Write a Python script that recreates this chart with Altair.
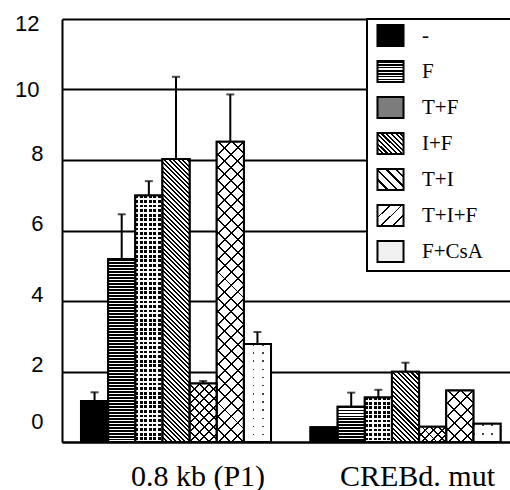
import math
import altair as alt
import pandas as pd

groups = ["0.8 kb (P1)", "CREBd. mut"]
series = ["-", "F", "T+F", "I+F", "T+I", "T+I+F", "F+CsA"]
values_p1 = [1.16, 5.19, 6.99, 8.03, 1.66, 8.52, 2.78]
errors_p1 = [0.25, 1.27, 0.41, 2.33, 0.07, 1.34, 0.34]
values_mut = [0.42, 1.00, 1.26, 1.99, 0.43, 1.46, 0.52]
errors_mut = [0.0, 0.40, 0.22, 0.26, 0.0, 0.0, 0.0]
y_ticks = [0, 2, 4, 6, 8, 10, 12]

PLOT_W, PLOT_H = 448, 423
PAD = {"left": 62, "top": 19, "right": 0, "bottom": 48}
Y_MAX = 12
PAD_INNER, PAD_OUTER, BAND_ALIGN = 0.172, 0.062, 0.667

px_per_unit = PLOT_H / Y_MAX
step = PLOT_W / (len(groups) - PAD_INNER + 2 * PAD_OUTER)
bar_w = step * (1 - PAD_INNER) / len(series)

records = []
for g, vals, errs in ((groups[0], values_p1, errors_p1), (groups[1], values_mut, errors_mut)):
    for s, v, e in zip(series, vals, errs):
        records.append(dict(group=g, series=s, value=v, err=e, upper=v + e))
df = pd.DataFrame(records)

CLEAR = "rgba(255,255,255,0)"
NBSP, ZWSP = "\u00a0", "\u200b"


def band_stops(k, frac, ink, paper):
    out = []
    for i in range(k):
        a, b, c = i / k, (i + frac) / k, (i + 1) / k
        out += [(a, ink), (b, ink), (b, paper), (c, paper)]
    return out


def geometry(kind, w, h, period):
    if kind == "rows":
        return max(1, round(h / period)), (0, 0, 0, 1)
    if kind == "cols":
        return max(1, round(w / period)), (0, 0, 1, 0)
    s = (w + h) / (w * w + h * h)
    k = max(1, round((w + h) / (math.sqrt(2) * period)))
    if kind == "back":
        return k, (0, 1, s * w, 1 - s * h)
    return k, (0, 0, s * w, s * h)


def gradient(kind, w, h, period, frac, ink, paper):
    k, (x1, y1, x2, y2) = geometry(kind, w, h, period)
    stops = [alt.GradientStop(offset=round(o, 5), color=c) for o, c in band_stops(k, frac, ink, paper)]
    return alt.LinearGradient(gradient="linear", stops=stops, x1=x1, y1=y1, x2=x2, y2=y2)


def gradient_expr(kind, w, h, period, frac, ink, paper):
    k, (x1, y1, x2, y2) = geometry(kind, w, h, period)
    stops = ",".join("{offset:%.5f,color:'%s'}" % (o, c) for o, c in band_stops(k, frac, ink, paper))
    return alt.ExprRef(expr="{gradient:'linear',x1:%.5f,y1:%.5f,x2:%.5f,y2:%.5f,stops:[%s]}"
                       % (x1, y1, x2, y2, stops))


patterns = {
    "-": [("solid", "black")],
    "F": [("rows", 3.0, 0.5, "black", "white")],
    "T+F": [("solid", "black"), ("rows", 4.6, 0.6, CLEAR, "white"), ("cols", 4.5, 0.6, CLEAR, "white")],
    "I+F": [("back", 3.2, 0.45, "black", "white")],
    "T+I": [("back", 6.4, 0.22, "black", "white"), ("fwd", 6.4, 0.22, "black", CLEAR)],
    "T+I+F": [("back", 9.4, 0.15, "black", "white"), ("fwd", 9.4, 0.15, "black", CLEAR)],
    "F+CsA": [("solid", "#444444"), ("rows", 8.0, 0.2, CLEAR, "white"), ("cols", 9.0, 0.17, CLEAR, "white")],
}

LEG_W, LEG_H = 26, 21
legend_fills = [
    "black",
    gradient_expr("rows", LEG_W, LEG_H, 3.0, 0.5, "black", "white"),
    "#7c7c7c",
    gradient_expr("back", LEG_W, LEG_H, 3.2, 0.45, "black", "white"),
    gradient_expr("back", LEG_W, LEG_H, 6.4, 0.25, "black", "white"),
    gradient_expr("fwd", LEG_W, LEG_H, 9.4, 0.15, "black", "white"),
    "#f0f0f0",
]
SYMBOL_PATH = "M-1.24,-1H1.24V1H-1.24Z"

y_axis = alt.Axis(
    title=None, values=y_ticks, grid=True, gridColor="black", gridWidth=2, gridOpacity=1,
    domain=True, domainColor="black", domainWidth=2, ticks=False,
    labelFont="Liberation Sans", labelFontSize=22, labelColor="black", labelBaseline="middle",
    labelPadding={"condition": {"test": "datum.value >= 10", "value": 23}, "value": 19},
    labelOffset={"condition": [{"test": "datum.value == 0", "value": -21},
                               {"test": "datum.value == 12", "value": 4},
                               {"test": "datum.value == 10", "value": 0}], "value": -7},
)
x_axis = alt.Axis(
    title=None, labelAngle=0, domain=True, domainColor="black", domainWidth=2, ticks=False, grid=False,
    labelFont="Liberation Serif", labelFontSize=30, labelColor="black", labelBaseline="alphabetic",
    labelPadding=43,
    labelOffset={"condition": {"test": "datum.value == '0.8 kb (P1)'", "value": 22}, "value": 12},
)

y_scale = alt.Scale(domain=[0, Y_MAX], nice=False)
base = alt.Chart(df).encode(
    x=alt.X("group:N", scale=alt.Scale(domain=groups, paddingInner=PAD_INNER,
                                       paddingOuter=PAD_OUTER, align=BAND_ALIGN), axis=x_axis),
    xOffset=alt.XOffset("series:N", scale=alt.Scale(domain=series, paddingInner=0, paddingOuter=0)),
    y=alt.Y("value:Q", scale=y_scale, axis=y_axis),
)

legend_layer = base.mark_bar(stroke="black", strokeWidth=2).encode(
    fill=alt.Fill(
        "series:N",
        scale=alt.Scale(domain=series, range=legend_fills),
        legend=alt.Legend(
            title=None, orient="none", legendX=305, legendY=0, direction="vertical",
            fillColor="white", strokeColor="black", padding=5,
            symbolType=SYMBOL_PATH, symbolSize=441, symbolStrokeColor="black", symbolStrokeWidth=2,
            symbolOffset=7, labelFont="Liberation Serif", labelFontSize=21, labelColor="black",
            labelOffset=20, labelBaseline="middle", rowPadding=7, labelLimit=400,
            labelExpr="datum.label == 'F+CsA' ? datum.label + '" + NBSP * 5 + ZWSP + "' : datum.label",
        ),
    )
)

layers = [legend_layer]
for g, vals in ((groups[0], values_p1), (groups[1], values_mut)):
    for s, v in zip(series, vals):
        h = v * px_per_unit
        for spec in patterns[s]:
            fill = spec[1] if spec[0] == "solid" else gradient(spec[0], bar_w, h, *spec[1:])
            layers.append(
                base.transform_filter((alt.datum.group == g) & (alt.datum.series == s)).mark_bar(fill=fill)
            )

layers.append(base.mark_bar(fillOpacity=0, stroke="black", strokeWidth=2))

err_base = base.transform_filter(alt.datum.err > 0)
layers.append(err_base.mark_rule(color="black", strokeWidth=2).encode(y2="upper:Q"))
layers.append(err_base.mark_tick(color="black", size=8, thickness=2).encode(
    y=alt.Y("upper:Q", scale=y_scale, axis=y_axis)))

chart = alt.layer(*layers).properties(
    width=PLOT_W, height=PLOT_H, padding=PAD,
    autosize=alt.AutoSizeParams(type="none"), background="white",
).configure_view(strokeWidth=0).configure_legend(strokeWidth=2)

chart.save("out.html", embed_options={"renderer": "svg", "actions": False})
